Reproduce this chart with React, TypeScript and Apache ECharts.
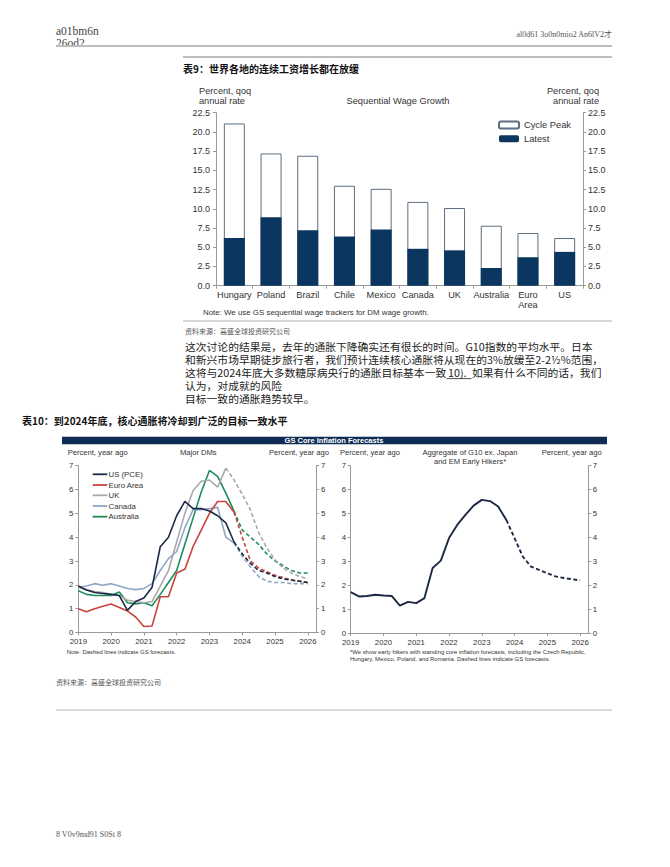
import React, { useEffect, useRef } from "react";
import * as echarts from "echarts";

// ---------- Chart 9: sequential wage growth ----------
const wageCategories = ["Hungary", "Poland", "Brazil", "Chile", "Mexico", "Canada", "UK", "Australia", "Euro\nArea", "US"];
const cyclePeak = [21.1, 17.2, 16.9, 13.0, 12.6, 10.9, 10.1, 7.8, 6.85, 6.2];
const latestWage = [6.2, 8.9, 7.2, 6.4, 7.3, 4.8, 4.6, 2.3, 3.7, 4.4];

// ---------- Chart 10: core inflation ----------
const quarters = [
  "2019Q1", "2019Q2", "2019Q3", "2019Q4",
  "2020Q1", "2020Q2", "2020Q3", "2020Q4",
  "2021Q1", "2021Q2", "2021Q3", "2021Q4",
  "2022Q1", "2022Q2", "2022Q3", "2022Q4",
  "2023Q1", "2023Q2", "2023Q3", "2023Q4",
  "2024Q1", "2024Q2", "2024Q3", "2024Q4",
  "2025Q1", "2025Q2", "2025Q3", "2025Q4",
  "2026Q1", "2026Q2",
];
const usPce = [1.95, 1.78, 1.68, 1.64, 1.6, 1.55, 0.93, 1.3, 1.45, 1.9, 3.6, 4.0, 4.9, 5.5, 5.2, 5.2, 5.1, 4.9, 4.6, 3.8, 3.3, 2.9, 2.6, 2.5, 2.35, 2.25, 2.2, 2.15, 2.1];
const euroArea = [1.0, 0.87, 1.0, 1.1, 1.2, 1.05, 0.9, 0.65, 0.25, 0.27, 1.5, 1.5, 2.5, 2.65, 3.6, 4.3, 5.0, 5.5, 5.5, 5.05, 4.0, 3.0, 2.7, 2.55, 2.4, 2.3, 2.2, 2.15, 2.1];
const ukCore = [1.9, 1.8, 1.72, 1.68, 1.6, 1.55, 1.35, 1.3, 1.25, 1.3, 1.95, 2.6, 3.8, 5.0, 5.95, 6.35, 6.4, 6.1, 6.9, 6.4, 5.8, 5.15, 4.2, 3.55, 3.05, 2.7, 2.5, 2.35, 2.25];
const canadaCore = [1.9, 1.95, 2.05, 1.98, 2.05, 1.95, 1.85, 1.8, 1.85, 2.05, 2.6, 3.1, 3.4, 4.4, 5.15, 5.15, 5.2, 5.25, 4.0, 3.75, 3.2, 2.75, 2.35, 2.15, 2.1, 2.1, 2.05, 2.05, 2.05];
const australiaCore = [1.75, 1.6, 1.55, 1.55, 1.55, 1.7, 1.25, 1.2, 1.25, 1.12, 1.6, 2.1, 2.6, 3.7, 4.8, 5.9, 6.8, 6.55, 5.85, 5.1, 4.3, 4.0, 3.7, 3.3, 3.0, 2.8, 2.6, 2.5, 2.5];
const dmNames = ["US (PCE)", "Euro Area", "UK", "Canada", "Australia"];
const dmValues = [usPce, euroArea, ukCore, canadaCore, australiaCore];
const dmColors = ["#1b2a47", "#c8443c", "#a9a9a9", "#8fa7c6", "#1e8c5e"];
const dmForecastStart = [19, 19, 18, 19, 19];
const aggregateCore = [1.71, 1.53, 1.55, 1.6, 1.57, 1.55, 1.15, 1.3, 1.25, 1.46, 2.72, 3.03, 3.97, 4.52, 4.94, 5.33, 5.57, 5.52, 5.29, 4.73, 3.97, 3.2, 2.78, 2.64, 2.5, 2.37, 2.3, 2.25, 2.2];
const aggregateForecastStart = 19;

const ARIAL = '"Liberation Sans", Arial, Helvetica, sans-serif';
const CJK = '"Noto Sans CJK SC", sans-serif';
const SERIF = '"Liberation Serif", "DejaVu Serif", "Noto Sans CJK SC", serif';
const AXIS_GRAY = "#9a9a9a";

type TOpts = { family?: string; weight?: string; fill?: string; align?: string; lineHeight?: number; scaleX?: number };
function T(x: number, y: number, text: string, size: number, o: TOpts = {}) {
  return {
    type: "text",
    x,
    y,
    scaleX: o.scaleX || 1,
    silent: true,
    style: {
      text,
      fontSize: size,
      fontFamily: o.family || ARIAL,
      fontWeight: o.weight || "normal",
      fill: o.fill || "#333",
      align: o.align || "left",
      verticalAlign: "middle",
      lineHeight: o.lineHeight || Math.round(size * 1.15 * 10) / 10,
    },
  };
}
function L(x1: number, y1: number, x2: number, y2: number, stroke: string, lineWidth: number) {
  return { type: "line", silent: true, shape: { x1, y1, x2, y2 }, style: { stroke, lineWidth } };
}

function splitSeries(name: string, values: number[], fs: number, color: string, axisIdx: number, width: number) {
  const actual = values.map((v, i) => (i <= fs ? v : null));
  const forecast = values.map((v, i) => (i >= fs ? v : null));
  return [
    {
      type: "line", name, data: actual, xAxisIndex: axisIdx, yAxisIndex: axisIdx * 2 + 1,
      symbol: "none", lineStyle: { color, width }, itemStyle: { color }, silent: true,
    },
    {
      type: "line", name: name + " (GS forecast)", data: forecast, xAxisIndex: axisIdx, yAxisIndex: axisIdx * 2 + 1,
      symbol: "none", lineStyle: { color, width, type: [4, 2.5] }, itemStyle: { color }, silent: true,
    },
  ];
}

function yValueAxis(gridIndex: number, pos: "left" | "right", min: number, max: number, interval: number, fmt: (v: number) => string, size: number, margin: number) {
  return {
    type: "value", gridIndex, position: pos, min, max, interval,
    axisLine: { show: true, lineStyle: { color: AXIS_GRAY, width: 1 } },
    axisTick: { show: true, length: 3, lineStyle: { color: AXIS_GRAY } },
    splitLine: { show: false },
    axisLabel: { color: "#333", fontSize: size, fontFamily: ARIAL, margin, formatter: fmt },
  };
}

function quarterAxis(gridIndex: number) {
  const isYear = (_i: number, v: string) => v.endsWith("Q1");
  return {
    type: "category", gridIndex, data: quarters, boundaryGap: false,
    axisLine: { show: true, lineStyle: { color: AXIS_GRAY, width: 1 } },
    axisTick: { show: true, length: 3, interval: isYear, lineStyle: { color: AXIS_GRAY } },
    axisLabel: { interval: isYear, formatter: (v: string) => v.slice(0, 4), color: "#333", fontSize: 7.8, fontFamily: ARIAL, margin: 5 },
    splitLine: { show: false },
  };
}

function buildOption() {
  const fmt1 = (v: number) => v.toFixed(1);
  const fmt0 = (v: number) => String(v);
  const P = { family: CJK, fill: "#222", lineHeight: 10.5, scaleX: 1.07 };
  const PS = 10.1;

  const graphic: any[] = [
    // page header
    T(56, 31, "a01bm6n", 11.5, { family: SERIF, fill: "#444", lineHeight: 11 }),
    T(56, 43, "26od2", 11.5, { family: SERIF, fill: "#444", lineHeight: 11 }),
    { type: "rect", silent: true, shape: { x: 50, y: 45, width: 120, height: 8 }, style: { fill: "#fff" } },
    T(612, 34, "al0d61 3o0n0mio2 An6lV2才", 8, { family: SERIF, fill: "#555", align: "right" }),
    L(56, 46, 612, 46, "#a8a8a8", 1.5),
    L(183, 57, 612, 57, "#a8a8a8", 1.5),
    T(183, 68, "表9：世界各地的连续工资增长都在放缓", 10, { family: CJK, weight: "bold", fill: "#111" }),

    // chart 9 texts
    T(199, 90.7, "Percent, qoq", 9.2, { lineHeight: 10 }),
    T(199, 101, "annual rate", 9.2, { lineHeight: 10 }),
    T(398, 101, "Sequential Wage Growth", 9.3, { align: "center", lineHeight: 10 }),
    T(599, 90.7, "Percent, qoq", 9.2, { align: "right", lineHeight: 10 }),
    T(599, 101, "annual rate", 9.2, { align: "right", lineHeight: 10 }),
    T(203, 312.7, "Note: We use GS sequential wage trackers for DM wage growth.", 7.9),
    L(183, 321, 612, 321, "#b0b0b0", 1.2),
    T(185, 331, "资料来源：高盛全球投资研究公司", 7, { family: CJK, fill: "#555" }),

    // paragraph
    T(185, 346.2, "这次讨论的结果是，去年的通胀下降确实还有很长的时间。G10指数的平均水平。日本", PS, P),
    T(185, 359.4, "和新兴市场早期徒步旅行者，我们预计连续核心通胀将从现在的3%放缓至2-2½%范围，", PS, P),
    T(185, 372.6, "这将与2024年底大多数糖尿病央行的通胀目标基本一致", PS, P),
    T(448, 372.6, "10).", PS, P),
    L(446.5, 378.6, 471.5, 378.6, "#222", 0.8),
    T(472, 372.6, "如果有什么不同的话，我们", PS, P),
    T(185, 385.8, "认为，对成就的风险", PS, P),
    T(185, 399, "目标一致的通胀趋势较早。", PS, P),

    T(22, 420, "表10：到2024年底，核心通胀将冷却到广泛的目标一致水平", 10, { family: CJK, weight: "bold", fill: "#111" }),

    // chart 10 header
    { type: "rect", silent: true, shape: { x: 62, y: 436.7, width: 545, height: 7.5 }, style: { fill: "#0f2d54" } },
    T(334, 440.5, "GS Core Inflation Forecasts", 7.5, { weight: "bold", fill: "#fff", align: "center", lineHeight: 7.5 }),
    T(67.7, 452.7, "Percent, year ago", 7.6),
    T(198.3, 452.7, "Major DMs", 7.6, { align: "center" }),
    T(329, 452.7, "Percent, year ago", 7.6, { align: "right" }),
    T(340, 452.7, "Percent, year ago", 7.6),
    T(470, 452.7, "Aggregate of G10 ex. Japan", 7.6, { align: "center", lineHeight: 8.2 }),
    T(470, 461, "and EM Early Hikers*", 7.6, { align: "center", lineHeight: 8.2 }),
    T(601.7, 452.7, "Percent, year ago", 7.6, { align: "right" }),
    T(66.7, 651.7, "Note: Dashed lines indicate GS forecasts.", 5.9),
    T(350, 652.3, "*We show early hikers with standing core inflation forecasts, including the Czech Republic,", 5.9, { lineHeight: 6.5 }),
    T(350, 659, "Hungary, Mexico, Poland, and Romania. Dashed lines indicate GS forecasts.", 5.9, { lineHeight: 6.5 }),

    T(56, 682, "资料来源：高盛全球投资研究公司", 7, { family: CJK, fill: "#555" }),
    L(56, 710, 612, 710, "#b8b8b8", 1.2),
    T(56, 834, "8 V0v9md91 S0St 8", 8, { family: SERIF, fill: "#555" }),
  ];

  // legend of the DM chart
  const legendY = [474.3, 485, 495.3, 506, 516.7];
  dmNames.forEach((n, i) => {
    graphic.push(L(92.7, legendY[i], 107.3, legendY[i], dmColors[i], 1.8));
    graphic.push(T(108.5, legendY[i], n, 7.8, { lineHeight: 9 }));
  });

  const lineSeries: any[] = [];
  for (let i = dmNames.length - 1; i >= 0; i--) {
    lineSeries.push(...splitSeries(dmNames[i], dmValues[i], dmForecastStart[i], dmColors[i], 1, 1.6));
  }
  lineSeries.push(...splitSeries("Aggregate of G10 ex. Japan and EM Early Hikers", aggregateCore, aggregateForecastStart, "#1c2a44", 2, 1.9));

  return {
    animation: false,
    backgroundColor: "#fff",
    graphic,
    legend: {
      data: ["Cycle Peak", "Latest"],
      left: 498, top: 119.5, orient: "vertical", padding: 0,
      itemWidth: 20, itemHeight: 7, itemGap: 2.7, selectedMode: false,
      textStyle: { fontSize: 9.3, color: "#333", fontFamily: ARIAL, lineHeight: 11 },
    },
    grid: [
      { left: 216, top: 112.7, width: 367, height: 173, outerBoundsMode: "none" },
      { left: 78.3, top: 465.7, width: 237.7, height: 166.8, outerBoundsMode: "none" },
      { left: 350.7, top: 465.7, width: 237.6, height: 167.3, outerBoundsMode: "none" },
    ],
    xAxis: [
      {
        type: "category", gridIndex: 0, data: wageCategories,
        axisLine: { show: true, lineStyle: { color: AXIS_GRAY, width: 1 } },
        axisTick: { show: true, length: 3, alignWithLabel: false, lineStyle: { color: AXIS_GRAY } },
        axisLabel: { color: "#333", fontSize: 9.2, fontFamily: ARIAL, margin: 4, lineHeight: 10, interval: 0 },
      },
      quarterAxis(1),
      quarterAxis(2),
    ],
    yAxis: [
      yValueAxis(0, "left", 0, 22.5, 2.5, fmt1, 9, 6),
      yValueAxis(0, "right", 0, 22.5, 2.5, fmt1, 9, 5),
      yValueAxis(1, "left", 0, 7, 1, fmt0, 7.8, 5),
      yValueAxis(1, "right", 0, 7, 1, fmt0, 7.8, 5),
      yValueAxis(2, "left", 0, 7, 1, fmt0, 7.8, 4.5),
      yValueAxis(2, "right", 0, 7, 1, fmt0, 7.8, 4.5),
    ],
    series: [
      {
        type: "bar", name: "Cycle Peak", data: cyclePeak, xAxisIndex: 0, yAxisIndex: 1, barWidth: 21,
        itemStyle: { color: "#ffffff", borderColor: "#5e6e80", borderWidth: 1 }, silent: true,
      },
      {
        type: "bar", name: "Latest", data: latestWage, xAxisIndex: 0, yAxisIndex: 1, barWidth: 21, barGap: "-100%",
        itemStyle: { color: "#0b3660" }, silent: true,
      },
      ...lineSeries,
    ],
  };
}

export default function App() {
  const ref = useRef<HTMLDivElement>(null);
  useEffect(() => {
    const chart = echarts.init(ref.current as HTMLDivElement, null, { renderer: "svg", width: 670, height: 867 });
    chart.setOption(buildOption() as any);
    return () => chart.dispose();
  }, []);
  return (
    <div
      ref={ref}
      style={{ position: "absolute", left: 0, top: 0, width: 670, height: 867, background: "#fff" }}
    />
  );
}
